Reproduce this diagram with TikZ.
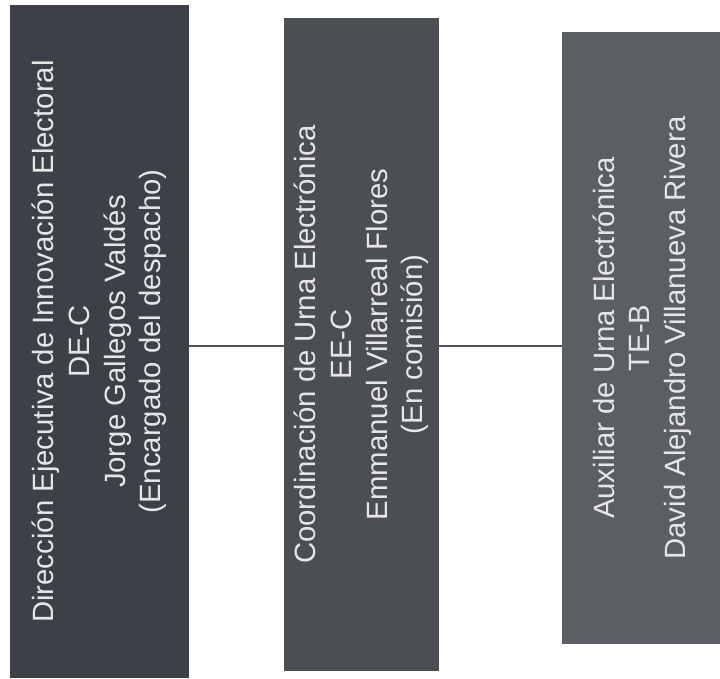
\documentclass[tikz,border=0pt]{standalone}
\usepackage{fontspec}
\setmainfont{Liberation Sans}
\definecolor{boxA}{HTML}{3C4147}
\definecolor{boxB}{HTML}{4B4E52}
\definecolor{boxC}{HTML}{5B5F63}
\definecolor{txt}{HTML}{E6E6E6}
\definecolor{wire}{HTML}{505254}
\tikzset{
  orgbox/.style={rotate=90, draw=none, inner sep=0pt, align=center, text=txt,
    font=\fontsize{22}{26.8}\selectfont},
  link/.style={draw=wire, line width=1.5pt}
}
\begin{document}
\begin{tikzpicture}[x=0.75pt,y=-0.75pt]
\useasboundingbox (0,0) rectangle (720,678);
\fill[white] (0,0) rectangle (720,678);
\node[orgbox, fill=boxA, minimum width=673*0.75pt, minimum height=179*0.75pt] (b1) at (99.5,341.5)
  {Dirección Ejecutiva de Innovación Electoral\\DE-C\\Jorge Gallegos Valdés\\(Encargado del despacho)};
\node[orgbox, fill=boxB, minimum width=653*0.75pt, minimum height=155*0.75pt] (b2) at (361.5,344.5)
  {Coordinación de Urna Electrónica\\EE-C\\Emmanuel Villarreal Flores\\(En comisión)};
\node[orgbox, fill=boxC, minimum width=612*0.75pt, minimum height=160*0.75pt] (b3) at (642,338)
  {Auxiliar de Urna Electrónica\\TE-B\\David Alejandro Villanueva Rivera};
\coordinate (L) at (0,346);
\draw[link] (b1.south |- L) -- (b2.north |- L);
\draw[link] (b2.south |- L) -- (b3.north |- L);
\end{tikzpicture}
\end{document}
